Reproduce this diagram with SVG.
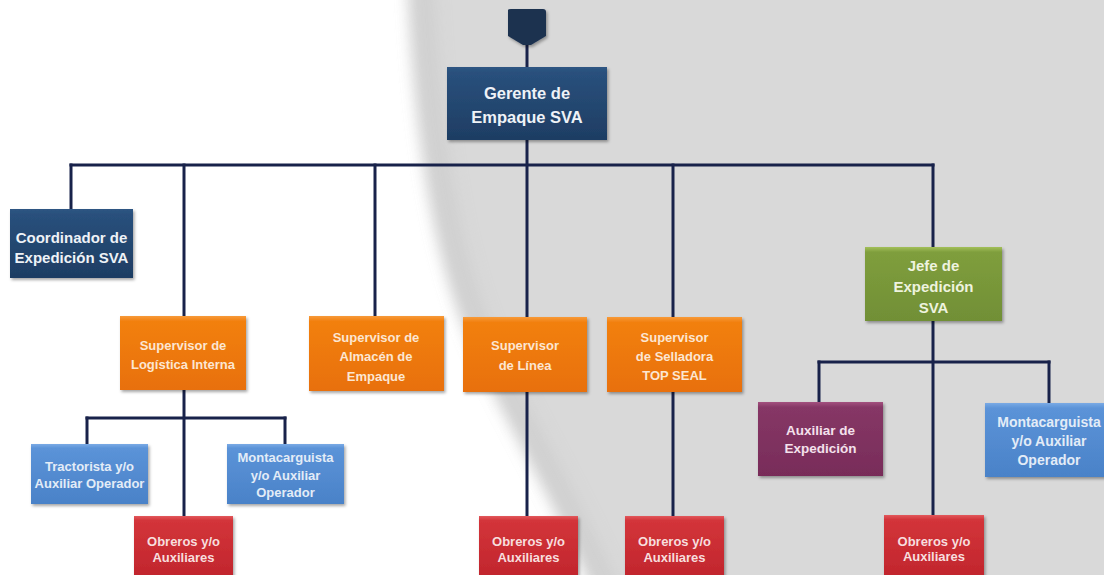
<svg xmlns="http://www.w3.org/2000/svg" width="1104" height="575" viewBox="0 0 1104 575">
<defs>
<style>
.box{stroke:none;filter:url(#sh)}
.t{font-family:"Liberation Sans",Arial,sans-serif;font-weight:bold;text-anchor:middle;dominant-baseline:central}
.navyT{fill:#eef2f7}
.orT{fill:#fce6d2}
.grT{fill:#eef3df}
.blT{fill:#e3ecf7}
.rdT{fill:#f7dede}
.puT{fill:#f4e1ec}
.conn line{stroke:#18224a;stroke-width:3;stroke-linecap:square}
</style>
<filter id="sh" x="-10%" y="-10%" width="125%" height="130%">
<feDropShadow dx="1.5" dy="2" stdDeviation="1.5" flood-color="#000" flood-opacity="0.35"/>
</filter>
<filter id="soft" x="-20%" y="-20%" width="140%" height="140%">
<feGaussianBlur stdDeviation="7"/>
</filter>
<filter id="soft2" x="-20%" y="-20%" width="140%" height="140%">
<feGaussianBlur stdDeviation="10"/>
</filter>
<linearGradient id="gNavy" x1="0" y1="0" x2="0" y2="1">
<stop offset="0" stop-color="#2e5583"/><stop offset="0.08" stop-color="#29507c"/><stop offset="1" stop-color="#1e3d63"/>
</linearGradient>
<linearGradient id="gOr" x1="0" y1="0" x2="0" y2="1">
<stop offset="0" stop-color="#f79a3a"/><stop offset="0.07" stop-color="#f2800f"/><stop offset="1" stop-color="#e8700a"/>
</linearGradient>
<linearGradient id="gGr" x1="0" y1="0" x2="0" y2="1">
<stop offset="0" stop-color="#a3c05a"/><stop offset="0.07" stop-color="#7f9e3c"/><stop offset="1" stop-color="#718f36"/>
</linearGradient>
<linearGradient id="gBl" x1="0" y1="0" x2="0" y2="1">
<stop offset="0" stop-color="#7aaae5"/><stop offset="0.07" stop-color="#5b93d8"/><stop offset="1" stop-color="#4a82c8"/>
</linearGradient>
<linearGradient id="gRd" x1="0" y1="0" x2="0" y2="1">
<stop offset="0" stop-color="#e2585c"/><stop offset="0.07" stop-color="#d3343a"/><stop offset="1" stop-color="#c0252c"/>
</linearGradient>
<linearGradient id="gPu" x1="0" y1="0" x2="0" y2="1">
<stop offset="0" stop-color="#a3527f"/><stop offset="0.07" stop-color="#863766"/><stop offset="1" stop-color="#782c59"/>
</linearGradient>
</defs>

<!-- background -->
<rect x="0" y="0" width="1104" height="575" fill="#ffffff"/>
<path d="M408,-20 C414,110 428,230 462,320 C488,392 542,472 598,600 L1130,600 L1130,-20 Z" fill="#d9d9d9" filter="url(#soft)"/>
<path d="M422,-20 C428,110 442,230 476,320 C502,392 556,472 612,600" fill="none" stroke="#c6c6c6" stroke-width="14" filter="url(#soft2)" opacity="0.8"/>

<g class="conn" id="connectors">
<line x1="527" y1="45" x2="527" y2="67"/>
<line x1="527" y1="140" x2="527" y2="317"/>
<line x1="71" y1="165" x2="933" y2="165"/>
<line x1="71" y1="165" x2="71" y2="209"/>
<line x1="184" y1="165" x2="184" y2="316"/>
<line x1="375" y1="165" x2="375" y2="316"/>
<line x1="673" y1="165" x2="673" y2="317"/>
<line x1="933" y1="165" x2="933" y2="247"/>
<line x1="184" y1="390" x2="184" y2="516"/>
<line x1="87" y1="418" x2="285" y2="418"/>
<line x1="87" y1="418" x2="87" y2="444"/>
<line x1="285" y1="418" x2="285" y2="444"/>
<line x1="527" y1="392" x2="527" y2="516"/>
<line x1="673" y1="392" x2="673" y2="516"/>
<line x1="933" y1="321" x2="933" y2="515"/>
<line x1="819" y1="362" x2="1049" y2="362"/>
<line x1="819" y1="362" x2="819" y2="402"/>
<line x1="1049" y1="362" x2="1049" y2="403"/>
</g>

<g id="top-connector">
<path d="M508,10 Q508,9 511,9 L543,9 Q546,9 546,12 L546,36 L531,45 L523,45 L508,36 Z" fill="#1c3150" filter="url(#sh)"/>
</g>

<g id="gerente">
<rect class="box" x="447" y="67" width="160" height="73" fill="url(#gNavy)"/>
<text class="t navyT" font-size="16.5"><tspan x="527" y="93">Gerente de</tspan><tspan x="527" y="117">Empaque SVA</tspan></text>
</g>

<g id="coordinador">
<rect class="box" x="10" y="209" width="123" height="69" fill="url(#gNavy)"/>
<text class="t navyT" font-size="15"><tspan x="71.5" y="237">Coordinador de</tspan><tspan x="71.5" y="257">Expedición SVA</tspan></text>
</g>

<g id="jefe">
<rect class="box" x="865" y="247" width="137" height="74" fill="url(#gGr)"/>
<text class="t grT" font-size="15"><tspan x="933.5" y="265">Jefe de</tspan><tspan x="933.5" y="286">Expedición</tspan><tspan x="933.5" y="307">SVA</tspan></text>
</g>

<g id="sup-logistica">
<rect class="box" x="120" y="316" width="126" height="74" fill="url(#gOr)"/>
<text class="t orT" font-size="13"><tspan x="183" y="345">Supervisor de</tspan><tspan x="183" y="364">Logística Interna</tspan></text>
</g>

<g id="sup-almacen">
<rect class="box" x="309" y="316" width="135" height="75" fill="url(#gOr)"/>
<text class="t orT" font-size="13"><tspan x="376" y="337">Supervisor de</tspan><tspan x="376" y="356">Almacén de</tspan><tspan x="376" y="376">Empaque</tspan></text>
</g>

<g id="sup-linea">
<rect class="box" x="463" y="317" width="124" height="75" fill="url(#gOr)"/>
<text class="t orT" font-size="13"><tspan x="525" y="345">Supervisor</tspan><tspan x="525" y="365">de Línea</tspan></text>
</g>

<g id="sup-selladora">
<rect class="box" x="607" y="317" width="135" height="75" fill="url(#gOr)"/>
<text class="t orT" font-size="13"><tspan x="674.5" y="337">Supervisor</tspan><tspan x="674.5" y="356">de Selladora</tspan><tspan x="674.5" y="375">TOP SEAL</tspan></text>
</g>

<g id="tractorista">
<rect class="box" x="31" y="444" width="117" height="60" fill="url(#gBl)"/>
<text class="t blT" font-size="13"><tspan x="89.5" y="466">Tractorista y/o</tspan><tspan x="89.5" y="483">Auxiliar Operador</tspan></text>
</g>

<g id="montacarguista-1">
<rect class="box" x="227" y="444" width="117" height="60" fill="url(#gBl)"/>
<text class="t blT" font-size="13"><tspan x="285.5" y="457">Montacarguista</tspan><tspan x="285.5" y="475">y/o Auxiliar</tspan><tspan x="285.5" y="492">Operador</tspan></text>
</g>

<g id="obreros-1">
<rect class="box" x="134" y="516" width="99" height="64" fill="url(#gRd)"/>
<text class="t rdT" font-size="13"><tspan x="183.5" y="541">Obreros y/o</tspan><tspan x="183.5" y="557">Auxiliares</tspan></text>
</g>

<g id="obreros-2">
<rect class="box" x="479" y="516" width="99" height="64" fill="url(#gRd)"/>
<text class="t rdT" font-size="13"><tspan x="528.5" y="541">Obreros y/o</tspan><tspan x="528.5" y="557">Auxiliares</tspan></text>
</g>

<g id="obreros-3">
<rect class="box" x="625" y="516" width="99" height="64" fill="url(#gRd)"/>
<text class="t rdT" font-size="13"><tspan x="674.5" y="541">Obreros y/o</tspan><tspan x="674.5" y="557">Auxiliares</tspan></text>
</g>

<g id="auxiliar-expedicion">
<rect class="box" x="758" y="402" width="125" height="74" fill="url(#gPu)"/>
<text class="t puT" font-size="13.5"><tspan x="820.5" y="430">Auxiliar de</tspan><tspan x="820.5" y="448">Expedición</tspan></text>
</g>

<g id="montacarguista-2">
<rect class="box" x="985" y="403" width="122" height="74" fill="url(#gBl)"/>
<text class="t blT" font-size="14"><tspan x="1049" y="422">Montacarguista</tspan><tspan x="1049" y="441">y/o Auxiliar</tspan><tspan x="1049" y="460">Operador</tspan></text>
</g>

<g id="obreros-4">
<rect class="box" x="884" y="515" width="100" height="65" fill="url(#gRd)"/>
<text class="t rdT" font-size="13"><tspan x="934" y="541">Obreros y/o</tspan><tspan x="934" y="556">Auxiliares</tspan></text>
</g>
</svg>
